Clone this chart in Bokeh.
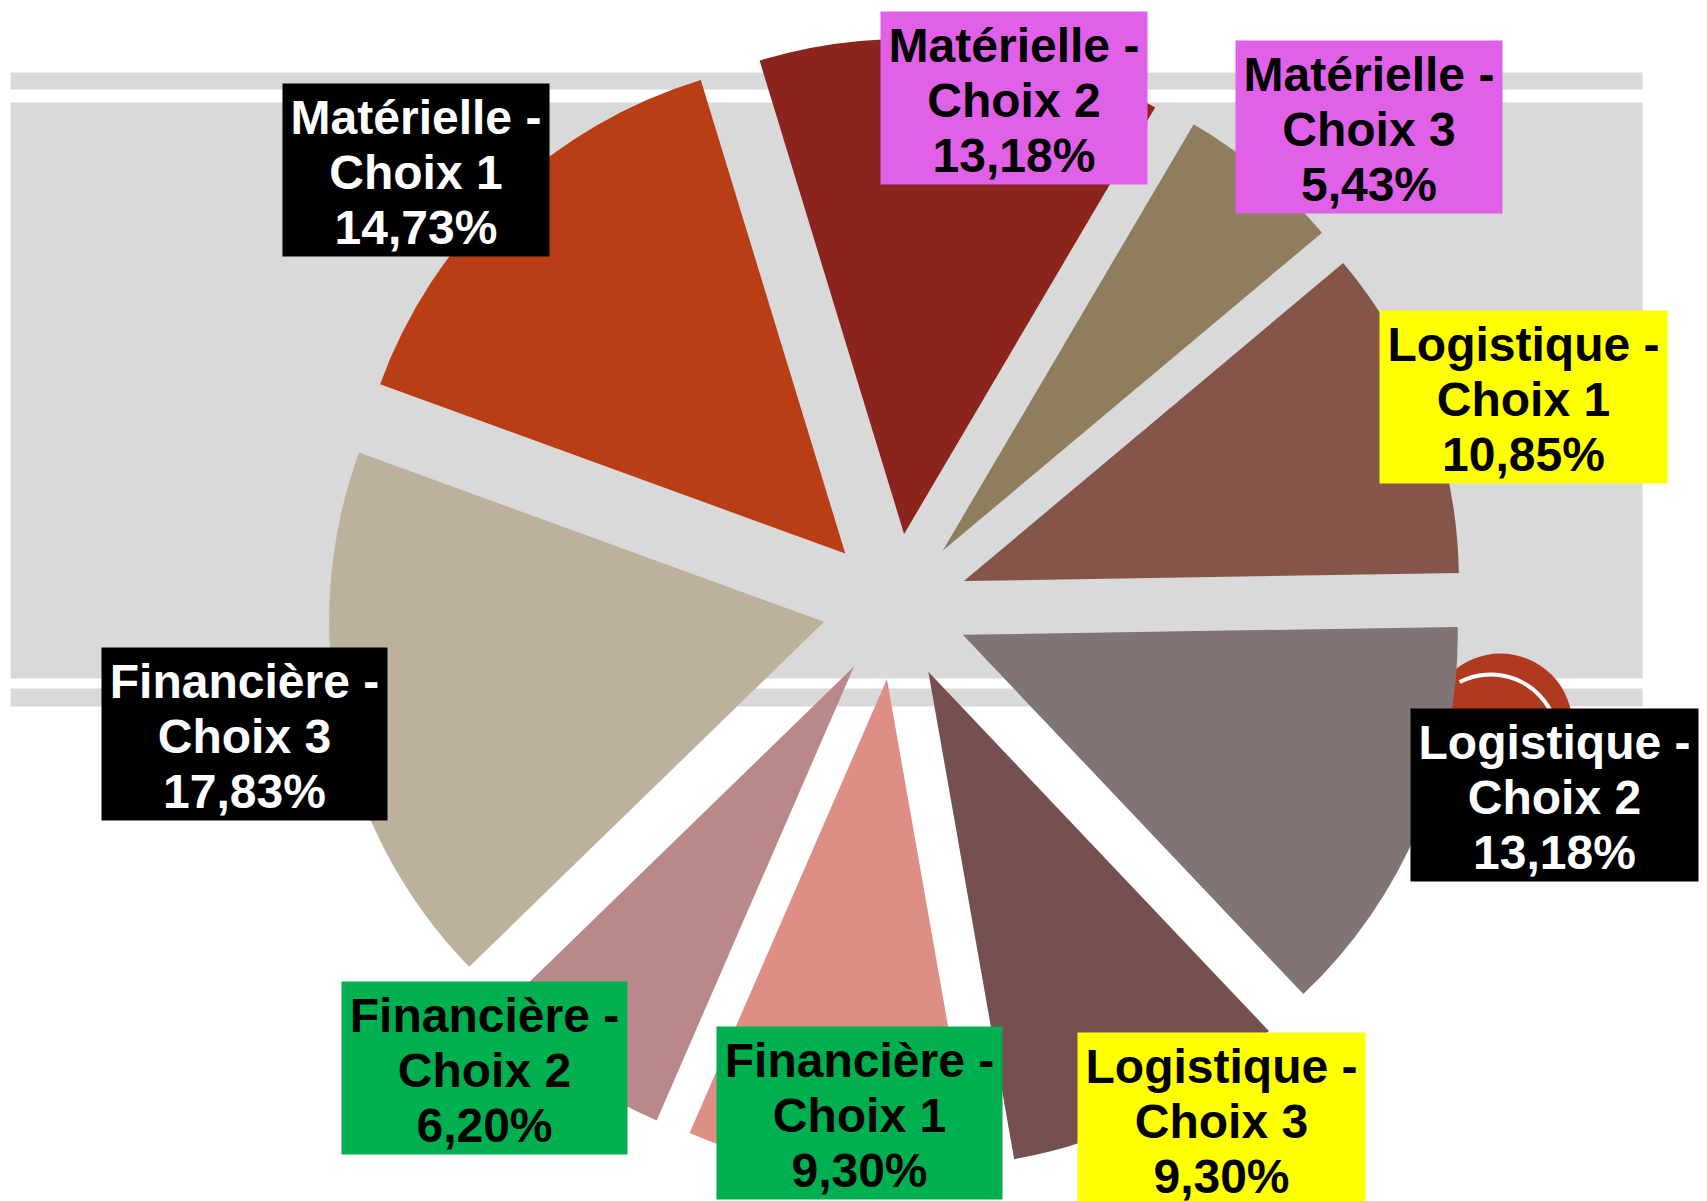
import math
from bokeh.plotting import figure
from bokeh.models import Range1d, ColumnDataSource
from bokeh.embed import file_html
from bokeh.resources import INLINE
from bokeh.core.properties import value

# ---------------- data ----------------
groups = ["Matérielle", "Matérielle", "Matérielle",
          "Logistique", "Logistique", "Logistique",
          "Financière", "Financière", "Financière"]
choices = ["Choix 1", "Choix 2", "Choix 3"] * 3
percent = [14.73, 13.18, 5.43, 10.85, 13.18, 9.30, 9.30, 6.20, 17.83]

# ---------------- styles ----------------
slice_colors = ["#B93E15", "#8A241C", "#8F7E5E", "#845548", "#807474",
                "#765050", "#DF8E86", "#B88988", "#BDB19E"]
label_fill = ["#000000", "#E060E8", "#E060E8", "#FFFF00", "#000000",
              "#FFFF00", "#00B050", "#00B050", "#000000"]
label_text = ["#FFFFFF", "#000000", "#000000", "#000000", "#FFFFFF",
              "#000000", "#000000", "#000000", "#FFFFFF"]
# label box layout (screen px): left, top, width
label_left = [282, 880, 1235, 1379, 1410, 1077, 716, 341, 101]
label_top = [83, 11, 40, 310, 708, 1032, 1026, 981, 647]
label_width = [267, 267, 267, 288, 288, 288, 286, 286, 286]
box_h = 173
line_gap = 55

W, H = 1707, 1201
OFF = 0


def X(sx):
    return sx - OFF


def Y(sy):
    return (H + OFF) - sy


p = figure(width=W, height=H, output_backend="svg", toolbar_location=None,
           x_range=Range1d(0, W), y_range=Range1d(0, H),
           x_axis_location=None, y_axis_location=None, min_border=0)
p.grid.visible = False
p.outline_line_color = None
p.background_fill_color = "white"
p.border_fill_color = "white"

# background band
band_l, band_r = 10, 1642
p.quad(left=[X(band_l)] * 3, right=[X(band_r)] * 3,
       top=[Y(72), Y(102), Y(688)], bottom=[Y(89), Y(678), Y(706)],
       fill_color="#D9D9D9", line_color=None)

# decorative red circle
p.circle(x=[X(1500)], y=[Y(725)], radius=72, fill_color="#B03A20", line_color=None)
p.arc(x=[X(1490)], y=[Y(742)], radius=68, start_angle=math.radians(20),
      end_angle=math.radians(117), line_color="white", line_width=4)

# pie (exploded)
cx, cy = X(895), Y(606)
R = 495
explode = 73
start_clock = -70.0
total = sum(percent)
wx, wy, sa, ea = [], [], [], []
acc = start_clock
for v in percent:
    span = v / total * 360.0
    t1, t2 = acc, acc + span
    mid = math.radians((t1 + t2) / 2)
    wx.append(cx + explode * math.sin(mid))
    wy.append(cy + explode * math.cos(mid))
    sa.append(math.radians(90 - t2))
    ea.append(math.radians(90 - t1))
    acc = t2

src = ColumnDataSource(dict(x=wx, y=wy, sa=sa, ea=ea, color=slice_colors))
p.wedge(x="x", y="y", radius=R, start_angle="sa", end_angle="ea",
        fill_color="color", line_color=None, source=src)

# label boxes
bx = [X(l + w / 2) for l, w in zip(label_left, label_width)]
by = [Y(t + box_h / 2) for t in label_top]
p.rect(x=bx, y=by, width=label_width, height=box_h, fill_color=label_fill,
       line_color=None)

tx, ty, tt, tc = [], [], [], []
for i in range(len(percent)):
    lines = [groups[i] + " -", choices[i],
             ("%.2f" % percent[i]).replace(".", ",") + "%"]
    center = label_top[i] + box_h / 2
    for k, s in enumerate(lines):
        tx.append(bx[i])
        ty.append(Y(center + 2 + (k - 1) * line_gap))
        tt.append(s)
        tc.append(label_text[i])

p.text(x=tx, y=ty, text=tt, text_color=tc, text_font=value("Liberation Sans"),
       text_font_style="bold", text_font_size="48px", text_align="center",
       text_baseline="alphabetic")

open("out.html", "w").write(file_html(p, INLINE))
